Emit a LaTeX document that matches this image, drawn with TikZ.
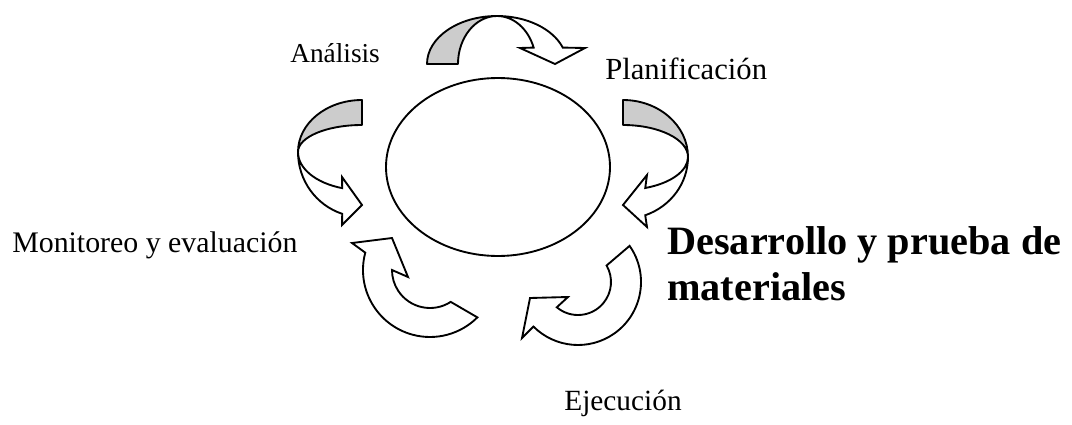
\documentclass[tikz,border=0pt]{standalone}
\usepackage{fontspec}
\setmainfont{Liberation Serif}
\usepackage{tikz}
\usetikzlibrary{positioning}
\tikzset{back/.style = {draw, fill = black!20, line width = 1.4pt, line join = round},
  front/.style = {draw, fill = white, line width = 1.4pt, line join = miter},
  label/.style = {inner sep = 0, font = \fontsize{23}{27}\selectfont},
  biglabel/.style = {inner sep = 0, align = left, font = \fontsize{30.2}{34.5}\selectfont\bfseries}}

\begin{document}
\begin{tikzpicture}[x = 0.75pt, y = -0.75pt]
    \useasboundingbox (0, 0) rectangle (1072, 425);

    \draw [line width = 1.4pt] (498, 167) ellipse [x radius = 112, y radius = 89];

    % top
    \begin{scope}[shift={(497, 64)}]
      \filldraw [back] (180:70 and 48) arc [start angle = 180, end angle = 270, x radius = 70, y radius = 48]
        arc [start angle = 270, end angle = 180, x radius = 39, y radius = 48] -- cycle;
      \filldraw [front] (270:70 and 48) arc [start angle = 270, end angle = 340, x radius = 70, y radius = 48]
        -- (88, -16) -- (58, 0) -- (23, -16) -- (340:39 and 48)
        arc [start angle = 340, end angle = 270, x radius = 39, y radius = 48] -- cycle;
    \end{scope}

    % left
    \begin{scope}[shift={(362, 152)}]
      \filldraw [back] (270:64 and 52) arc [start angle = 270, end angle = 180, x radius = 64, y radius = 52]
        arc [start angle = 180, end angle = 270, x radius = 64, y radius = 27] -- cycle;
      \filldraw [front] (180:64 and 52) arc [start angle = 180, end angle = 108, x radius = 64, y radius = 65]
        -- (-20, 73) -- (0, 53) -- (-20, 25) -- (108:64 and 38)
        arc [start angle = 108, end angle = 180, x radius = 64, y radius = 38] -- cycle;
    \end{scope}

    % right
    \begin{scope}[shift={(623, 157)}]
      \filldraw [back] (270:65 and 57) arc [start angle = 270, end angle = 360, x radius = 65, y radius = 57]
        arc [start angle = 0, end angle = -90, x radius = 65, y radius = 32] -- cycle;
      \filldraw [front] (0:65 and 57) arc [start angle = 0, end angle = 70, x radius = 65, y radius = 62]
        -- (24, 70) -- (0, 48) -- (24, 18) -- (70:65 and 33)
        arc [start angle = 70, end angle = 0, x radius = 65, y radius = 33] -- cycle;
    \end{scope}

    % bottom left
    \begin{scope}[shift={(430, 270)}]
      \filldraw [front] (195:67) arc [start angle = 195, end angle = 45, radius = 67]
        -- (57:38) arc [start angle = 57, end angle = 180, radius = 38]
        -- (-22, 7) -- (-38, -32) -- (-78, -27) -- cycle;
    \end{scope}

    % bottom right
    \begin{scope}[shift={(578, 282)}]
      \filldraw [front] (325:63) arc [start angle = 325, end angle = 495, radius = 63]
        -- (-56, 56) -- (-48, 16) -- (-10, 15) -- (490:33)
        arc [start angle = 490, end angle = 330, radius = 33] -- cycle;
    \end{scope}

    \node [label, font = \fontsize{20.5}{24}\selectfont, anchor = base west] (analisis) at (290, 62) {Análisis};
    \node [label, anchor = base west] (planif) at (605, 79) {Planificación};
    \node [label, font = \fontsize{22.4}{26}\selectfont, anchor = base west] (monitoreo) at (12, 252) {Monitoreo y evaluación};
    \node [biglabel, anchor = north west] (desarrollo) at (667, 226) {Desarrollo y prueba de\\materiales};
    \node [label, font = \fontsize{22}{26}\selectfont, anchor = base] (ejecucion) at (623, 410) {Ejecución};
  \end{tikzpicture}
\end{document}
